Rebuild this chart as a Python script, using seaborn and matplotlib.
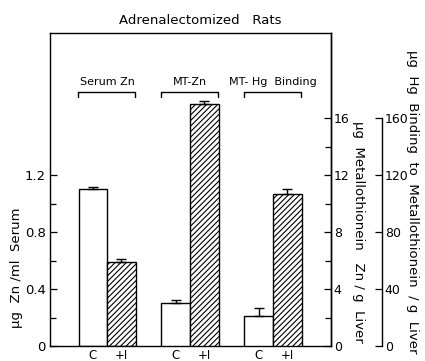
import matplotlib
matplotlib.use("Agg")
import matplotlib.pyplot as plt
import matplotlib.transforms as mtransforms
from matplotlib.ticker import FixedLocator
import seaborn as sns
import pandas as pd

# ---- data ----
groups = ["Serum Zn", "MT-Zn", "MT-Hg Binding"]
treatments = ["C", "+I"]
serum_zn = [1.10, 0.59]
serum_zn_err = [0.02, 0.025]
mt_zn = [3.05, 17.0]
mt_zn_err = [0.2, 0.25]
mt_hg = [21.3, 107.0]
mt_hg_err = [5.6, 3.5]
group_labels = ["Serum Zn", "MT-Zn", "MT- Hg  Binding"]

sns.set_style("ticks")
plt.rcParams["font.family"] = ["DejaVu Sans"]
plt.rcParams["hatch.linewidth"] = 0.8
for k in ("text.color", "axes.labelcolor", "xtick.color", "ytick.color",
          "xtick.labelcolor", "ytick.labelcolor", "axes.edgecolor"):
    plt.rcParams[k] = "black"

fig = plt.figure(figsize=(4.25, 3.61), dpi=100)
ax = fig.add_axes([50 / 425, 1 - 346 / 361, 281 / 425, 313 / 361])
ax2 = ax.twinx()
ax3 = ax.twinx()

def draw(axis, vals, errs, group):
    df = pd.DataFrame({"assay": [group] * 2, "treatment": treatments, "value": vals})
    sns.barplot(data=df, x="assay", y="value", hue="treatment", order=groups,
                hue_order=treatments, width=0.69, palette=["white", "white"],
                edgecolor="black", linewidth=1.0, errorbar=None, legend=False,
                gap=0, ax=axis)
    gi = groups.index(group)
    for p in axis.patches:
        cx = p.get_x() + p.get_width() / 2
        if abs(cx - gi) > 0.5:
            continue
        h = p.get_height()
        if cx > gi:
            p.set_hatch("//////")
            ti = 1
        else:
            ti = 0
        axis.errorbar([cx], [h], yerr=[[0], [errs[ti]]], fmt="none",
                      ecolor="black", elinewidth=1.0, capsize=3.5, capthick=1.0)
    axis.set_xlabel("")
    axis.set_ylabel("")

draw(ax, serum_zn, serum_zn_err, "Serum Zn")
draw(ax2, mt_zn, mt_zn_err, "MT-Zn")
draw(ax3, mt_hg, mt_hg_err, "MT-Hg Binding")

for a in (ax, ax2, ax3):
    a.set_xlim(-0.69, 2.70)

ax.set_ylim(0, 2.2)
ax2.set_ylim(0, 22)
ax3.set_ylim(0, 220)

tick_fs = 9
ax.yaxis.set_major_locator(FixedLocator([0, 0.4, 0.8, 1.2]))
ax.yaxis.set_minor_locator(FixedLocator([0.2, 0.6, 1.0]))
ax.set_yticklabels(["0", "0.4", "0.8", "1.2"])
ax.tick_params(axis="y", which="both", direction="in", labelsize=9.5, pad=3)
ax.tick_params(axis="y", which="major", length=5, width=0.9)
ax.tick_params(axis="y", which="minor", length=4, width=0.9)

ax2.yaxis.set_major_locator(FixedLocator([0, 4, 8, 12, 16]))
ax2.yaxis.set_minor_locator(FixedLocator([2, 6, 10, 14]))
ax2.tick_params(axis="y", which="both", direction="in", labelsize=tick_fs, pad=2)
ax2.tick_params(axis="y", which="major", length=5, width=0.9)
ax2.tick_params(axis="y", which="minor", length=4, width=0.9)

ax3.yaxis.set_major_locator(FixedLocator([0, 40, 80, 120, 160]))
ax3.tick_params(axis="y", which="both", direction="in", labelsize=tick_fs, pad=2,
                length=5, width=0.9)
ax3.spines["right"].set_position(("axes", 332 / 281))
ax3.spines["right"].set_bounds(0, 160)
for s in ("left", "top", "bottom"):
    ax3.spines[s].set_visible(False)
    ax2.spines[s].set_visible(False)

for a in (ax, ax2, ax3):
    for s in a.spines.values():
        s.set_linewidth(1.0)
        s.set_color("black")

# x tick labels C / +I
ax.set_xticks([-0.1725, 0.1725, 0.8275, 1.1725, 1.8275, 2.1725])
ax.set_xticklabels(["C", "+I"] * 3)
ax.tick_params(axis="x", length=0, labelsize=8.5, pad=2)
for a in (ax2, ax3):
    a.tick_params(axis="x", length=0, labelbottom=False)

# group brackets
trans = mtransforms.blended_transform_factory(ax.transData, ax.transAxes)
for gi, lab in enumerate(group_labels):
    x0, x1 = gi - 0.35, gi + 0.34
    ax.plot([x0, x0, x1, x1], [0.795, 0.81, 0.81, 0.795], color="black",
            lw=1.0, transform=trans, clip_on=False)
    ax.text(gi, 0.826, lab, transform=trans, ha="center", va="bottom", fontsize=8)

ax.set_ylabel("μg  Zn /ml  Serum", fontsize=9.5)
ax.yaxis.set_label_coords(-0.095, 0.25)

fig.text(358 / 425, 1 - 232 / 361, "μg  Metallothionein   Zn / g  Liver",
         rotation=270, ha="center", va="center", fontsize=9.5)
fig.text(413 / 425, 1 - 202 / 361, "μg  Hg  Binding  to  Metallothionein  / g  Liver",
         rotation=270, ha="center", va="center", fontsize=9.5)

fig.text(200 / 425, 1 - 20 / 361, "Adrenalectomized   Rats", ha="center",
         va="center", fontsize=9.5)

fig.savefig("out.png", dpi=100)
